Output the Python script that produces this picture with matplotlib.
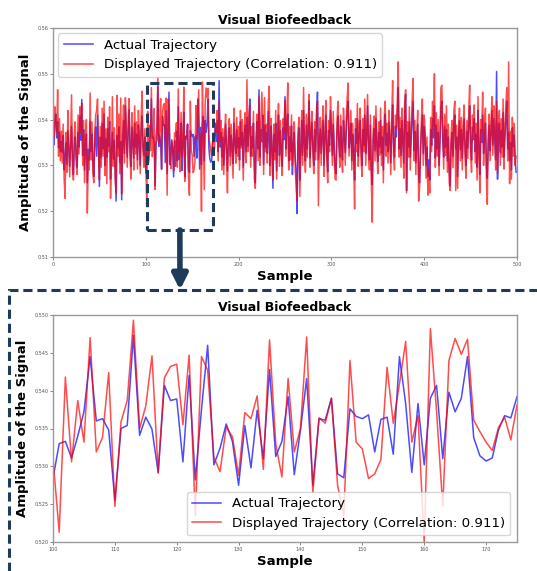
import numpy as np
import matplotlib
matplotlib.use("Agg")
import matplotlib.pyplot as plt
from matplotlib.patches import Rectangle

# amplitudes in units of 1e-4
actual_000 = [
    5380, 5345, 5400, 5412, 5360, 5395, 5338, 5372, 5330, 5352,
    5328, 5365, 5290, 5318, 5350, 5302, 5376, 5335, 5298, 5342,
    5385, 5312, 5280, 5346, 5362, 5318, 5296, 5372, 5340, 5408,
    5355, 5444, 5322, 5378, 5290, 5348, 5368, 5262, 5335, 5312,
    5396, 5330, 5368, 5305, 5276, 5350, 5384, 5320, 5410, 5342,
    5254, 5362, 5318, 5392, 5336, 5412, 5300, 5358, 5318, 5380,
    5342, 5396, 5270, 5330, 5372, 5314, 5355, 5290, 5222, 5365,
    5338, 5384, 5306, 5352, 5225, 5342, 5398, 5326, 5430, 5362,
    5318, 5372, 5422, 5336, 5298, 5384, 5350, 5316, 5392, 5340,
    5368, 5312, 5388, 5352, 5300, 5376, 5408, 5342, 5322, 5362,
]
displayed_000 = [
    5395, 5360, 5428, 5390, 5372, 5465, 5320, 5402, 5310, 5375,
    5305, 5390, 5272, 5228, 5372, 5285, 5420, 5340, 5275, 5365,
    5454, 5296, 5268, 5372, 5395, 5302, 5280, 5410, 5325, 5428,
    5372, 5436, 5300, 5398, 5262, 5366, 5400, 5196, 5318, 5290,
    5458, 5312, 5395, 5280, 5262, 5372, 5410, 5420, 5445, 5330,
    5268, 5385, 5296, 5425, 5320, 5440, 5278, 5380, 5260, 5405,
    5330, 5428, 5228, 5310, 5450, 5298, 5382, 5270, 5240, 5453,
    5320, 5412, 5282, 5447, 5238, 5360, 5432, 5305, 5448, 5385,
    5296, 5398, 5446, 5318, 5270, 5415, 5372, 5290, 5430, 5325,
    5395, 5292, 5420, 5372, 5282, 5408, 5462, 5330, 5296, 5380,
]

# zoomed window, samples 100..175
actual_zoom = [
    5284, 5330, 5333, 5311, 5340, 5372, 5445, 5360, 5363, 5348,
    5255, 5350, 5354, 5473, 5341, 5365, 5349, 5292, 5407, 5387,
    5389, 5306, 5420, 5282, 5375, 5460, 5302, 5324, 5356, 5333,
    5275, 5354, 5298, 5374, 5310, 5428, 5313, 5333, 5392, 5289,
    5348, 5416, 5275, 5363, 5361, 5390, 5290, 5285, 5376, 5366,
    5363, 5368, 5319, 5362, 5365, 5316, 5445, 5383, 5292, 5383,
    5302, 5390, 5407, 5310, 5398, 5372, 5390, 5445, 5338, 5314,
    5307, 5311, 5348, 5367, 5364, 5392,
]
displayed_zoom = [
    5310, 5213, 5418, 5306, 5387, 5332, 5470, 5319, 5338, 5424,
    5247, 5359, 5387, 5493, 5350, 5380, 5446, 5291, 5417, 5432,
    5435, 5355, 5447, 5235, 5445, 5427, 5312, 5293, 5352, 5339,
    5288, 5371, 5363, 5393, 5296, 5467, 5330, 5286, 5416, 5319,
    5350, 5471, 5265, 5364, 5357, 5390, 5275, 5235, 5440, 5332,
    5323, 5284, 5290, 5309, 5431, 5357, 5409, 5465, 5332, 5367,
    5200, 5482, 5372, 5247, 5440, 5469, 5448, 5468, 5361, 5346,
    5332, 5321, 5351, 5365, 5335, 5381,
]

actual_176 = [
    5352, 5398, 5330, 5485,
    5340, 5372, 5318, 5362, 5300, 5348, 5390, 5335, 5288, 5356,
    5382, 5320, 5366, 5342, 5304, 5392, 5350, 5326, 5378, 5338,
    5360, 5312, 5396, 5344, 5372, 5296, 5356, 5388, 5330, 5405,
    5342, 5378, 5445, 5320, 5362, 5338, 5392, 5300, 5262, 5358,
    5396, 5336, 5465, 5318, 5378, 5352, 5410, 5302, 5388, 5340,
    5372, 5326, 5418, 5354, 5300, 5386, 5342, 5250, 5368, 5330,
    5392, 5288, 5356, 5410, 5322, 5376, 5340, 5298, 5382, 5356,
    5450, 5336, 5390, 5412, 5310, 5362, 5330, 5386, 5280, 5348,
    5372, 5316, 5290, 5195, 5352, 5382, 5268, 5340, 5398, 5322,
    5420, 5350, 5310, 5388, 5336, 5372, 5440, 5316, 5360, 5394,
    5342, 5300, 5378, 5330, 5402, 5460, 5312, 5348, 5380, 5326,
    5362, 5398, 5300, 5352, 5410, 5338, 5286, 5376, 5344, 5420,
    5368, 5322, 5390, 5340, 5296, 5282, 5372, 5408, 5350, 5318,
    5386, 5345, 5312, 5398, 5360, 5328, 5376, 5420, 5440, 5338,
    5356, 5392, 5310, 5368, 5332, 5268, 5380, 5348, 5402, 5320,
    5362, 5398, 5336, 5300, 5378, 5344, 5410, 5326, 5360, 5430,
    5342, 5312, 5388, 5290, 5258, 5355, 5380, 5332, 5402, 5346,
    5308, 5372, 5340, 5398, 5326, 5362, 5290, 5380, 5412, 5344,
    5370, 5330, 5394, 5352, 5306, 5378, 5432, 5340, 5318, 5386,
    5362, 5410, 5470, 5336, 5380, 5322, 5398, 5350, 5305, 5420,
    5455, 5245, 5372, 5340, 5396, 5318, 5360, 5402, 5440, 5332,
    5374, 5306, 5350, 5390, 5280, 5262, 5338, 5372, 5410, 5326,
    5385, 5352, 5300, 5340, 5276, 5312, 5268, 5378, 5344, 5402,
    5360, 5430, 5316, 5388, 5336, 5372, 5300, 5348, 5425, 5440,
    5352, 5318, 5386, 5340, 5378, 5310, 5362, 5290, 5255, 5346,
    5372, 5320, 5390, 5410, 5336, 5362, 5276, 5352, 5398, 5334,
    5378, 5316, 5360, 5402, 5342, 5300, 5374, 5338, 5390, 5430,
    5348, 5312, 5384, 5356, 5402, 5330, 5368, 5296, 5420, 5342,
    5280, 5378, 5350, 5410, 5326, 5362, 5392, 5300, 5272, 5346,
    5388, 5332, 5368, 5420, 5344, 5402, 5356, 5312, 5505, 5270,
    5360, 5392, 5328, 5376, 5340, 5416, 5318, 5362, 5398, 5440,
    5336, 5372, 5310, 5350, 5290, 5382, 5342, 5366, 5312, 5285,
]
displayed_176 = [
    5372, 5420, 5310, 5440,
    5352, 5398, 5290, 5380, 5280, 5372, 5412, 5318, 5240, 5375,
    5402, 5300, 5390, 5330, 5272, 5425, 5360, 5305, 5405, 5320,
    5385, 5290, 5420, 5338, 5400, 5268, 5372, 5415, 5306, 5487,
    5330, 5398, 5432, 5296, 5385, 5320, 5418, 5270, 5250, 5372,
    5412, 5310, 5450, 5300, 5392, 5460, 5402, 5280, 5448, 5330,
    5390, 5305, 5440, 5473, 5278, 5402, 5330, 5268, 5390, 5312,
    5420, 5270, 5372, 5435, 5298, 5398, 5325, 5278, 5402, 5370,
    5442, 5320, 5410, 5480, 5290, 5385, 5312, 5410, 5300, 5332,
    5395, 5290, 5260, 5222, 5372, 5405, 5232, 5330, 5420, 5300,
    5470, 5340, 5285, 5412, 5318, 5398, 5455, 5296, 5378, 5418,
    5330, 5282, 5396, 5312, 5428, 5440, 5212, 5365, 5405, 5300,
    5380, 5430, 5276, 5370, 5442, 5318, 5262, 5398, 5330, 5450,
    5390, 5300, 5418, 5322, 5270, 5268, 5395, 5440, 5362, 5296,
    5410, 5330, 5285, 5425, 5378, 5300, 5398, 5448, 5480, 5320,
    5372, 5420, 5290, 5392, 5310, 5205, 5402, 5330, 5435, 5298,
    5385, 5425, 5312, 5276, 5402, 5330, 5445, 5300, 5380, 5455,
    5325, 5290, 5410, 5268, 5176, 5372, 5408, 5310, 5430, 5335,
    5282, 5395, 5322, 5425, 5300, 5385, 5262, 5405, 5440, 5320,
    5392, 5305, 5420, 5370, 5280, 5400, 5485, 5325, 5290, 5410,
    5380, 5438, 5526, 5318, 5405, 5296, 5425, 5365, 5272, 5440,
    5465, 5240, 5395, 5318, 5428, 5290, 5380, 5440, 5490, 5310,
    5398, 5280, 5372, 5420, 5222, 5250, 5320, 5400, 5445, 5300,
    5410, 5375, 5272, 5362, 5235, 5290, 5240, 5405, 5330, 5440,
    5385, 5500, 5296, 5415, 5320, 5400, 5278, 5365, 5470, 5475,
    5375, 5292, 5412, 5322, 5430, 5285, 5390, 5262, 5245, 5368,
    5398, 5295, 5420, 5440, 5245, 5388, 5250, 5372, 5425, 5310,
    5405, 5290, 5385, 5432, 5320, 5272, 5398, 5315, 5420, 5475,
    5330, 5285, 5410, 5376, 5432, 5305, 5392, 5268, 5450, 5322,
    5240, 5400, 5372, 5460, 5300, 5390, 5425, 5275, 5215, 5368,
    5412, 5310, 5395, 5450, 5322, 5430, 5378, 5290, 5440, 5282,
    5385, 5420, 5300, 5402, 5318, 5445, 5292, 5390, 5430, 5470,
    5310, 5526, 5260, 5375, 5270, 5405, 5320, 5392, 5300, 5320,
]

correlation = 0.911
zoom_start, zoom_end = 100, 175

actual = np.array(actual_000 + actual_zoom + actual_176) / 1e4
displayed = np.array(displayed_000 + displayed_zoom + displayed_176) / 1e4
samples = np.arange(len(actual))
zs = np.arange(zoom_start, zoom_start + len(actual_zoom))
za = np.array(actual_zoom) / 1e4
zd = np.array(displayed_zoom) / 1e4

navy = '#1f3a5a'
W, H = 537, 571
fig = plt.figure(figsize=(W / 100, H / 100), dpi=100)

def fx(px):
    return px / W

def fy(py):
    return 1 - py / H

ax1 = fig.add_axes([fx(53), fy(257), fx(464), (257 - 28) / H])
ax2 = fig.add_axes([fx(53), fy(542), fx(464), (542 - 315) / H])

lab = 'Displayed Trajectory (Correlation: %.3f)' % correlation
for ax, x, a, d in [(ax1, samples, actual, displayed), (ax2, zs, za, zd)]:
    ax.plot(x, a, color='blue', alpha=0.7, lw=1.1, label='Actual Trajectory')
    ax.plot(x, d, color='red', alpha=0.7, lw=1.1, label=lab)
    ax.set_title('Visual Biofeedback', fontsize=9, fontweight='bold', pad=3)
    ax.set_xlabel('Sample', fontsize=9.5, fontweight='bold', labelpad=2)
    ax.set_ylabel('Amplitude of the Signal', fontsize=9.5, fontweight='bold', labelpad=4)
    ax.tick_params(labelsize=3.5, length=2, width=0.5, pad=1.5, colors='#555555')
    for s in ax.spines.values():
        s.set_color('#999999')
        s.set_linewidth(1.0)

ax1.set_xlim(0, 500)
ax1.set_ylim(0.51, 0.56)
ax1.set_xticks([0, 100, 200, 300, 400, 500])
ax1.set_yticks([0.51, 0.52, 0.53, 0.54, 0.55, 0.56])
ax1.legend(loc='upper left', fontsize=9.6, borderaxespad=0.4, handlelength=2.2)

ax2.set_xlim(zoom_start, zoom_end)
ax2.set_ylim(0.52, 0.55)
ax2.set_xticks([100, 110, 120, 130, 140, 150, 160, 170])
ax2.set_yticks([0.520, 0.525, 0.530, 0.535, 0.540, 0.545, 0.550])
ax2.yaxis.set_major_formatter(matplotlib.ticker.FormatStrFormatter('%.3f'))
ax2.legend(loc='lower right', fontsize=9.6, borderaxespad=0.5, handlelength=2.2)

# highlight box on the full trace
ax1.add_patch(Rectangle((zoom_start + 0.8, 0.5159), 72, 0.0321, fill=False,
                        edgecolor=navy, lw=2.2, linestyle=(0, (3, 1.6)), zorder=5))
# frame around the zoomed panel
fig.add_artist(Rectangle((fx(9), -0.1), 1.2, fy(290) + 0.1, transform=fig.transFigure,
                         fill=False, edgecolor=navy, lw=2.2, linestyle=(0, (3, 1.6))))
ax1.annotate('', xy=(fx(180), fy(290)), xycoords='figure fraction',
             xytext=(136.7, 0.5159), textcoords='data',
             arrowprops=dict(arrowstyle='-|>,head_length=0.9,head_width=0.45',
                             lw=4, color=navy, shrinkA=0, shrinkB=0))

fig.savefig('out.png', dpi=100)
